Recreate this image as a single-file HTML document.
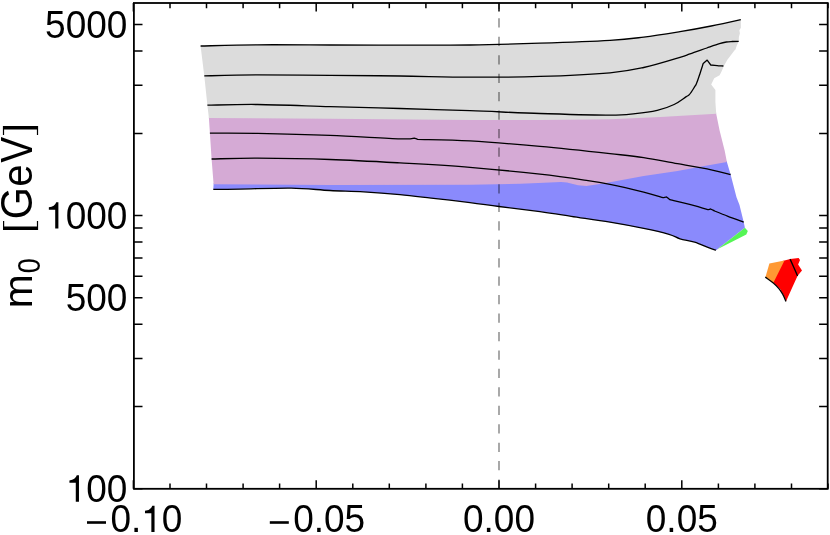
<!DOCTYPE html><html><head><meta charset="utf-8"><title>plot</title>
<style>html,body{margin:0;padding:0;background:#fff;}svg{display:block;}text{font-family:"Liberation Sans",sans-serif;fill:#000;}</style></head><body>
<svg width="830" height="535" viewBox="0 0 830 535" style="will-change:transform">
<rect width="830" height="535" fill="#fff"/>
<polygon points="213.6,183.3 213.6,184.3 213.3,189.3 240.6,189.1 291.2,188.1 330.0,190.5 363.7,191.8 400.0,194.7 431.2,198.1 470.0,202.6 499.0,206.5 540.0,211.6 571.2,216.3 610.0,222.2 643.7,228.4 669.0,234.3 680.0,238.8 694.6,242.1 709.2,247.8 716.0,250.2 717.4,249.2 744.9,227.8 743.7,222.0 739.5,205.0 736.5,197.2 730.6,174.5 726.9,161.9 726.9,160.9 704.4,165.0 677.5,170.1 643.7,175.1 610.0,181.2 601.5,182.7 586.3,185.0 578.0,184.3 567.0,181.5 561.0,181.1 520.6,182.8 470.0,183.7 330.0,184.0 213.6,183.3" fill="#8a8afc"/>
<polygon points="208.9,116.9 330.0,117.8 470.0,119.0 540.0,119.1 610.0,118.3 660.6,116.1 716.2,112.7 716.2,113.7 719.6,130.6 724.7,150.8 726.9,161.9 726.9,161.9 704.4,166.0 677.5,171.1 643.7,176.1 610.0,182.2 601.5,183.7 586.3,186.0 578.0,185.3 567.0,182.5 561.0,182.1 520.6,183.8 470.0,184.7 330.0,185.0 213.6,184.3 211.6,159.0 209.9,133.2 208.9,117.9" fill="#d5aad5"/>
<polygon points="200.6,46.0 257.5,44.8 330.0,45.0 400.0,45.2 470.0,45.0 540.0,43.2 610.0,40.3 643.7,37.1 680.0,31.7 711.2,26.0 740.8,19.6 740.9,27.7 739.3,30.2 739.9,33.2 738.9,37.0 738.7,41.4 736.8,45.4 735.5,49.6 734.8,50.0 727.2,60.1 723.9,66.0 721.3,71.9 719.6,75.3 714.2,78.3 711.2,84.4 715.4,90.1 715.4,101.9 716.2,113.7 716.2,113.7 660.6,117.1 610.0,119.3 540.0,120.1 470.0,120.0 330.0,118.8 208.9,117.9 207.4,105.2 204.3,75.9" fill="#dcdcdc"/>
<polygon points="744.9,227.8 747.8,231.0 746.3,234.6 717.4,249.2" fill="#55f555"/>
<polygon points="782.5,260.9 790.3,259.1 798.6,257.9 800.0,260.1 798.1,264.4 802.0,270.5 797.6,275.7 791.8,288.5 786.2,301.1 783.5,294.8 780.1,289.0 772.3,281.5" fill="#ff0000"/>
<polygon points="769.4,263.5 784.5,260.5 773.4,282.7 765.5,276.9" fill="#ff9933"/>
<path d="M499.0 488.8 V3.0" stroke="#000" stroke-opacity="0.5" stroke-width="1.35" stroke-dasharray="9.25 9.2" fill="none"/>
<path d="M200.6 46.0 C210.1 45.8 235.9 45.0 257.5 44.8 C279.1 44.6 306.2 44.9 330.0 45.0 C353.8 45.1 376.7 45.2 400.0 45.2 C423.3 45.2 446.7 45.3 470.0 45.0 C493.3 44.7 516.7 44.0 540.0 43.2 C563.3 42.4 592.7 41.3 610.0 40.3 C627.3 39.3 632.0 38.5 643.7 37.1 C655.4 35.7 668.8 33.5 680.0 31.7 C691.2 29.8 701.1 28.0 711.2 26.0 C721.3 24.0 735.9 20.7 740.8 19.6" fill="none" stroke="#000" stroke-width="1.3" stroke-linejoin="round"/>
<path d="M204.3 75.9 C213.2 75.7 236.6 75.0 257.5 74.9 C278.4 74.8 306.2 75.1 330.0 75.3 C353.8 75.5 376.7 75.7 400.0 76.0 C423.3 76.3 446.7 77.1 470.0 77.2 C493.3 77.3 516.7 77.1 540.0 76.4 C563.3 75.7 592.7 74.3 610.0 72.8 C627.3 71.3 632.0 70.1 643.7 67.5 C655.4 64.9 672.3 59.6 680.0 57.3 C687.7 55.0 685.5 55.4 690.0 53.9 C694.5 52.4 702.0 49.7 706.9 48.0 C711.8 46.3 716.3 44.7 719.5 43.7 C722.7 42.7 724.2 42.4 726.3 42.0 C728.4 41.6 730.1 41.6 732.2 41.5 C734.3 41.4 737.6 41.4 738.7 41.4" fill="none" stroke="#000" stroke-width="1.3" stroke-linejoin="round"/>
<path d="M207.4 105.2 C215.8 105.1 237.1 104.3 257.5 104.5 C277.9 104.7 306.2 105.9 330.0 106.6 C353.8 107.3 376.7 107.8 400.0 108.5 C423.3 109.2 446.7 109.9 470.0 110.7 C493.3 111.5 516.7 112.8 540.0 113.5 C563.3 114.2 594.1 115.2 610.0 115.2 C625.9 115.2 627.4 114.5 635.3 113.7 C643.2 112.9 650.7 111.9 657.2 110.4 C663.7 108.9 669.3 106.8 674.1 104.5 C678.9 102.2 683.3 98.6 685.9 96.9 C688.5 95.2 688.1 96.0 689.5 94.4 C690.9 92.9 693.0 89.4 694.1 87.6 C695.2 85.8 695.5 85.8 696.4 83.7 C697.3 81.7 698.3 78.7 699.4 75.3 C700.5 71.9 702.6 65.5 703.2 63.5 C703.9 62.9 706.5 60.7 707.2 60.1 C707.8 60.9 710.2 64.2 710.8 65.0 C711.8 65.1 715.0 65.4 717.1 65.6 C719.2 65.8 722.4 65.9 723.4 66.0" fill="none" stroke="#000" stroke-width="1.3" stroke-linejoin="round"/>
<path d="M209.9 133.2 C217.8 133.2 237.5 133.0 257.5 133.4 C277.5 133.8 306.2 134.5 330.0 135.4 C353.8 136.3 385.9 138.4 400.0 138.8 C414.1 139.2 411.9 138.2 414.3 138.1 C414.9 138.3 417.1 139.1 417.7 139.3 C426.4 139.6 449.6 139.7 470.0 140.9 C490.4 142.1 516.7 144.3 540.0 146.4 C563.3 148.5 592.7 151.7 610.0 153.6 C627.3 155.5 632.5 155.9 643.7 157.6 C655.0 159.3 666.2 161.7 677.5 163.7 C688.8 165.7 702.4 168.0 711.2 169.8 C720.1 171.6 727.4 173.7 730.6 174.5" fill="none" stroke="#000" stroke-width="1.3" stroke-linejoin="round"/>
<path d="M211.6 159.0 C219.2 158.9 237.8 158.1 257.5 158.2 C277.2 158.3 306.2 158.7 330.0 159.5 C353.8 160.3 376.7 161.6 400.0 162.9 C423.3 164.2 446.7 165.4 470.0 167.3 C493.3 169.2 520.3 172.0 540.0 174.2 C559.7 176.4 576.3 178.9 588.0 180.6 C599.7 182.3 600.7 182.5 610.0 184.4 C619.3 186.3 634.9 190.0 643.7 192.2 C652.6 194.4 659.9 196.8 663.1 197.7 C663.7 197.6 665.9 197.0 666.5 196.9 C667.1 197.4 669.3 199.2 669.9 199.7 C674.0 200.7 688.1 204.0 694.3 205.6 C700.5 207.2 704.3 208.8 707.0 209.4 C709.7 210.0 710.1 209.1 710.7 209.0 C711.4 209.3 714.0 210.7 714.6 211.0 C716.8 211.9 723.1 214.5 728.0 216.3 C732.9 218.2 741.1 221.1 743.7 222.1" fill="none" stroke="#000" stroke-width="1.3" stroke-linejoin="round"/>
<path d="M213.3 189.3 C217.9 189.3 227.6 189.3 240.6 189.1 C253.6 188.9 276.3 187.9 291.2 188.1 C306.1 188.3 317.9 189.9 330.0 190.5 C342.1 191.1 352.0 191.1 363.7 191.8 C375.4 192.5 388.8 193.6 400.0 194.7 C411.2 195.8 419.5 196.8 431.2 198.1 C442.9 199.4 458.7 201.2 470.0 202.6 C481.3 204.0 487.3 205.0 499.0 206.5 C510.7 208.0 528.0 210.0 540.0 211.6 C552.0 213.2 559.5 214.5 571.2 216.3 C582.9 218.1 597.9 220.2 610.0 222.2 C622.1 224.2 633.9 226.4 643.7 228.4 C653.5 230.4 663.0 232.6 669.0 234.3 C675.0 236.0 675.7 237.5 680.0 238.8 C684.3 240.1 689.7 240.6 694.6 242.1 C699.5 243.6 705.6 246.5 709.2 247.8 C712.8 249.2 714.9 249.8 716.0 250.2" fill="none" stroke="#000" stroke-width="1.3" stroke-linejoin="round"/>
<path d="M790.1 259.1 C791.4 261.9 796.4 273.1 797.6 275.9" fill="none" stroke="#000" stroke-width="1.35" stroke-linejoin="round"/>
<path d="M765.3 277.1 C766.6 278.1 771.0 281.1 773.3 283.0 C775.6 284.9 777.3 286.7 778.9 288.6 C780.5 290.5 781.5 292.1 782.7 294.2 C783.9 296.3 785.4 300.2 785.9 301.4" fill="none" stroke="#000" stroke-width="1.35" stroke-linejoin="round"/>
<path d="M133.4 488.8 v-8.6 M133.4 3.0 v8.6 M170.0 488.8 v-5.2 M170.0 3.0 v5.2 M206.5 488.8 v-5.2 M206.5 3.0 v5.2 M243.1 488.8 v-5.2 M243.1 3.0 v5.2 M279.6 488.8 v-5.2 M279.6 3.0 v5.2 M316.2 488.8 v-8.6 M316.2 3.0 v8.6 M352.8 488.8 v-5.2 M352.8 3.0 v5.2 M389.3 488.8 v-5.2 M389.3 3.0 v5.2 M425.9 488.8 v-5.2 M425.9 3.0 v5.2 M462.4 488.8 v-5.2 M462.4 3.0 v5.2 M499.0 488.8 v-8.6 M499.0 3.0 v8.6 M535.6 488.8 v-5.2 M535.6 3.0 v5.2 M572.1 488.8 v-5.2 M572.1 3.0 v5.2 M608.7 488.8 v-5.2 M608.7 3.0 v5.2 M645.2 488.8 v-5.2 M645.2 3.0 v5.2 M681.8 488.8 v-8.6 M681.8 3.0 v8.6 M718.4 488.8 v-5.2 M718.4 3.0 v5.2 M754.9 488.8 v-5.2 M754.9 3.0 v5.2 M791.5 488.8 v-5.2 M791.5 3.0 v5.2 M828.0 488.8 v-5.2 M828.0 3.0 v5.2 M133.9 488.8 h8.6 M827.7 488.8 h-8.6 M133.9 406.6 h8.6 M827.7 406.6 h-8.6 M133.9 358.5 h8.6 M827.7 358.5 h-8.6 M133.9 324.3 h8.6 M827.7 324.3 h-8.6 M133.9 297.8 h8.6 M827.7 297.8 h-8.6 M133.9 276.2 h8.6 M827.7 276.2 h-8.6 M133.9 257.9 h8.6 M827.7 257.9 h-8.6 M133.9 242.1 h8.6 M827.7 242.1 h-8.6 M133.9 228.1 h8.6 M827.7 228.1 h-8.6 M133.9 215.6 h8.6 M827.7 215.6 h-8.6 M133.9 133.4 h8.6 M827.7 133.4 h-8.6 M133.9 85.3 h8.6 M827.7 85.3 h-8.6 M133.9 51.1 h8.6 M827.7 51.1 h-8.6 M133.9 24.6 h8.6 M827.7 24.6 h-8.6" stroke="#000" stroke-width="1.5" fill="none"/>
<rect x="133.9" y="3.0" width="693.8" height="485.8" fill="none" stroke="#000" stroke-width="1.8"/>
<text transform="translate(45.11,37.64) scale(1,1.040)" font-size="37">5000</text>
<path d="M58.39 202.14 L58.39 228.60 L55.21 228.60 L55.21 209.66 L48.85 209.66 L48.85 207.21 Q54.81 206.77 56.21 202.14 Z" fill="#000"/><text transform="translate(65.68,228.60) scale(1,1.040)" font-size="37">000</text>
<text transform="translate(65.68,310.84) scale(1,1.040)" font-size="37">500</text>
<path d="M78.97 475.34 L78.97 501.80 L75.78 501.80 L75.78 482.86 L69.42 482.86 L69.42 480.41 Q75.38 479.97 76.78 475.34 Z" fill="#000"/><text transform="translate(86.26,501.80) scale(1,1.040)" font-size="37">00</text>
<rect x="87.00" y="521.2" width="19" height="2.6" fill="#000"/>
<text transform="translate(110.40,532.10) scale(1,1.040)" font-size="37">0.</text><path d="M154.54 505.65 L154.54 532.10 L151.36 532.10 L151.36 513.16 L144.99 513.16 L144.99 510.71 Q150.95 510.27 152.36 505.65 Z" fill="#000"/><text transform="translate(161.83,532.10) scale(1,1.040)" font-size="37">0</text>
<rect x="269.80" y="521.2" width="19" height="2.6" fill="#000"/>
<text transform="translate(293.20,532.10) scale(1,1.040)" font-size="37">0.05</text>
<text transform="translate(463.00,532.10) scale(1,1.040)" font-size="37">0.00</text>
<text transform="translate(645.80,532.10) scale(1,1.040)" font-size="37">0.05</text>
<g transform="translate(31.6,308.5) rotate(-90)"><text transform="translate(0.35,0.00) scale(0.968,0.960)" font-size="42">m</text><text transform="translate(35.30,8.00) scale(0.900,1.037)" font-size="30">0</text><text transform="translate(89.27,0.00) scale(0.985,1.047)" font-size="42">G</text><text transform="translate(121.64,0.00) scale(0.959,1.000)" font-size="42">e</text><text transform="translate(145.78,0.00) scale(0.923,1.045)" font-size="42">V</text></g>
<path d="M2.9 126.0 H38.1 V134.9 H36.9 V129.4 H4.1 V134.9 H2.9 Z M3.0 229.9 H38.1 V221.0 H36.9 V226.6 H4.2 V221.0 H3.0 Z" fill="#000"/>
</svg></body></html>
